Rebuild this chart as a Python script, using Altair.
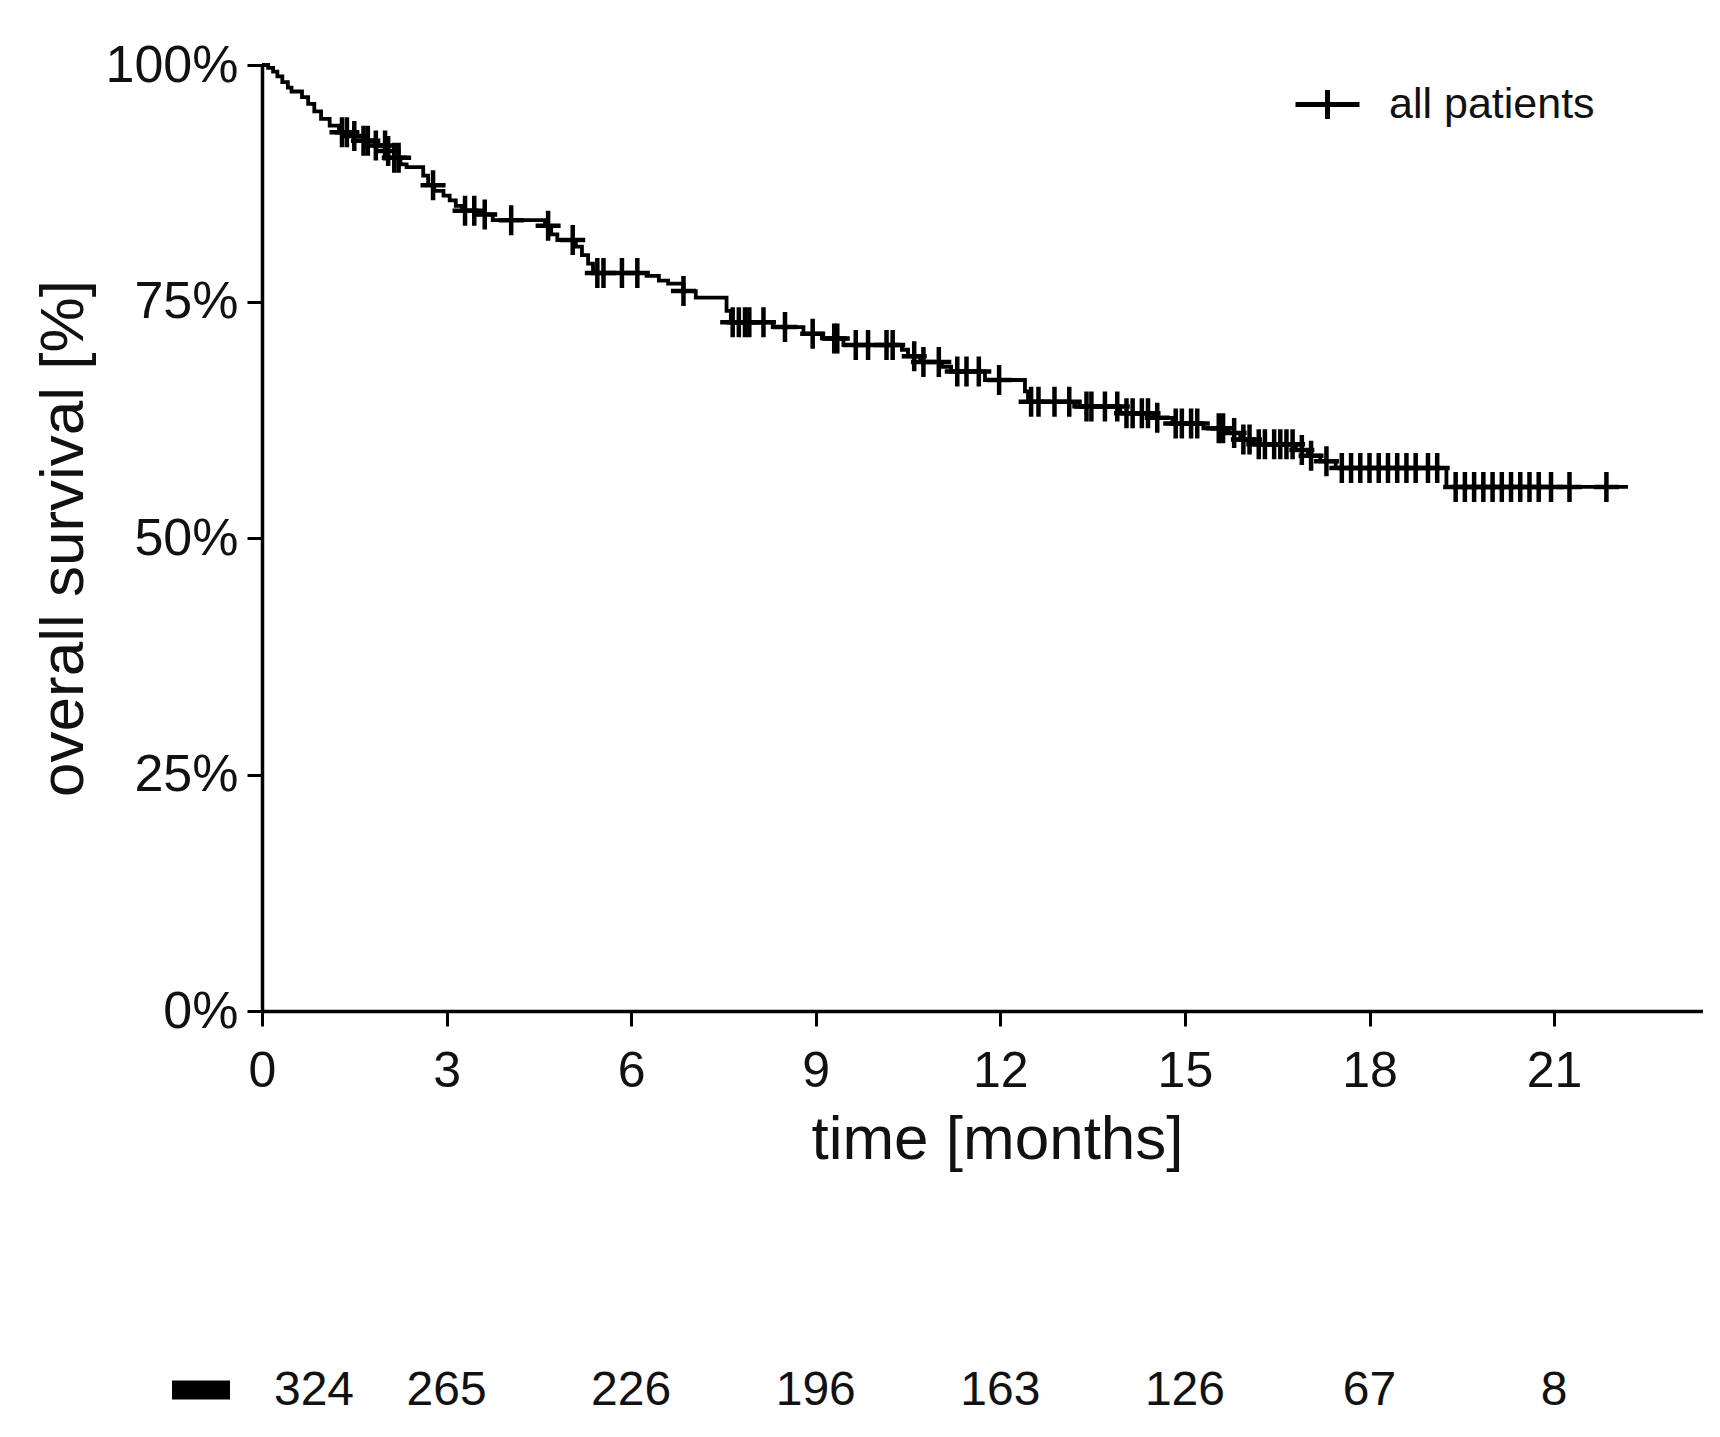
import altair as alt
import pandas as pd

FONT = "Liberation Sans"

# Kaplan-Meier step points (time in months, survival in %)
event_times = [0, 0.10, 0.18, 0.25, 0.33, 0.42, 0.48, 0.65, 0.75, 0.85, 0.96, 1.10, 1.25,
               1.45, 1.65, 1.85, 2.05, 2.15, 2.25, 2.35, 2.62, 2.70, 2.80, 2.95, 3.05, 3.15,
               3.25, 3.50, 3.75, 4.60, 4.70, 4.80, 5.10, 5.20, 5.30, 5.38, 6.25, 6.45, 6.60,
               6.85, 7.05, 7.55, 7.62, 8.30, 8.80, 9.10, 9.45, 10.40, 10.50, 10.70, 11.05,
               11.20, 11.75, 12.40, 12.45, 13.20, 13.95, 14.50, 14.80, 15.30, 15.70, 15.90,
               16.10, 16.80, 17.00, 17.20, 17.45, 19.25]
event_surv = [100, 99.7, 99.3, 98.8, 98.2, 97.6, 97.2, 96.6, 95.9, 95.1, 94.3, 93.6, 92.9,
              92.5, 92.0, 91.5, 90.9, 90.2, 89.5, 89.2, 88.3, 87.3, 86.7, 86.2, 85.7, 85.1,
              84.6, 84.2, 83.6, 83.0, 82.1, 81.5, 80.8, 79.9, 79.0, 78.0, 77.7, 77.2, 76.9,
              76.1, 75.4, 74.0, 72.8, 72.3, 71.6, 71.1, 70.4, 69.9, 69.2, 68.6, 68.1,
              67.6, 66.7, 65.5, 64.4, 63.9, 63.2, 62.7, 62.1, 61.6, 61.1, 60.4,
              59.9, 59.3, 58.7, 58.1, 57.4, 55.4]
end_time = 22.2

censor_times = [1.30, 1.38, 1.50, 1.65, 1.72, 1.85, 2.00, 2.05, 2.15, 2.22, 2.78, 3.30, 3.45,
                3.62, 4.05, 4.65, 5.05, 5.45, 5.55, 5.85, 6.10, 6.85, 7.65, 7.75, 7.85, 7.92,
                8.15, 8.50, 8.95, 9.30, 9.35, 9.65, 9.85, 10.15, 10.25, 10.60, 10.75, 11.00,
                11.30, 11.45, 11.65, 11.98, 12.50, 12.62, 12.88, 13.12, 13.40, 13.48, 13.70,
                13.90, 14.05, 14.15, 14.30, 14.40, 14.55, 14.85, 14.95, 15.10, 15.20, 15.55,
                15.62, 15.80, 15.95, 16.05, 16.20, 16.30, 16.45, 16.55, 16.65, 16.75, 16.90,
                17.05, 17.30, 17.55, 17.70, 17.85, 18.00, 18.15, 18.30, 18.45, 18.60, 18.75,
                18.95, 19.10, 19.40, 19.55, 19.70, 19.85, 20.00, 20.15, 20.30, 20.45, 20.60,
                20.75, 20.95, 21.25, 21.85]

risk_times = [0, 3, 6, 9, 12, 15, 18, 21]
risk_counts = [324, 265, 226, 196, 163, 126, 67, 8]
x_ticks = [0, 3, 6, 9, 12, 15, 18, 21]
y_ticks = [0, 25, 50, 75, 100]
group = "all patients"


def surv_at(t):
    s = event_surv[0]
    for et, es in zip(event_times, event_surv):
        if et <= t:
            s = es
    return s


line_df = pd.DataFrame({
    "t": event_times + [end_time],
    "s": event_surv + [event_surv[-1]],
    "g": group,
})
cens_df = pd.DataFrame({"t": censor_times, "s": [surv_at(t) for t in censor_times]})
risk_df = pd.DataFrame({"t": risk_times, "n": risk_counts})

xs = alt.Scale(domain=[0, 23.42], nice=False, zero=False)
ys = alt.Scale(domain=[0, 100], nice=False)

x_axis = alt.Axis(values=x_ticks, format="d", title="time [months]", titleX=735, titleY=128,
                  titleBaseline="middle", titleAlign="center", labelPadding=20,
                  labelFlush=False)
y_axis = alt.Axis(values=y_ticks, title="overall survival [%]", labelExpr="datum.value + '%'",
                  titleX=-199, titleY=473, titleAngle=270, titleAlign="center",
                  titleBaseline="middle", labelPadding=9, labelFontSize=52, labelFlush=False)

CROSS = "M-1,0H1M0,-1.2V1.2"

line = alt.Chart(line_df).mark_line(interpolate="step-after", strokeWidth=3.8).encode(
    x=alt.X("t:Q", scale=xs, axis=x_axis),
    y=alt.Y("s:Q", scale=ys, axis=y_axis),
    color=alt.Color("g:N", scale=alt.Scale(domain=[group], range=["black"]),
                    legend=alt.Legend(title=None, orient="none", legendX=1031, legendY=5,
                                      symbolType="M-1,0H1M0,-0.45V0.45", symbolSize=4096,
                                      symbolStrokeWidth=5, labelFont=FONT, labelFontSize=43,
                                      labelColor="#111", labelOffset=27, labelLimit=600,
                                      padding=0)),
)

cens = alt.Chart(cens_df).mark_point(shape=CROSS, size=625, strokeWidth=4.5, filled=False,
                                     color="black", opacity=1).encode(
    x=alt.X("t:Q", scale=xs),
    y=alt.Y("s:Q", scale=ys),
)

risk_first = alt.Chart(risk_df.iloc[:1]).mark_text(font=FONT, fontSize=48, baseline="middle",
                                                   align="center", dx=52, color="#111").encode(
    x=alt.X("t:Q", scale=xs),
    y=alt.value(1326),
    text="n:Q",
)
risk_rest = alt.Chart(risk_df.iloc[1:]).mark_text(font=FONT, fontSize=48, baseline="middle",
                                                  align="center", color="#111").encode(
    x=alt.X("t:Q", scale=xs),
    y=alt.value(1326),
    text="n:Q",
)

risk_key = alt.Chart(risk_df.iloc[:1]).mark_rule(color="black", strokeWidth=19,
                                                 strokeCap="butt").encode(
    x=alt.value(-90), x2=alt.value(-32), y=alt.value(1325),
)

chart = alt.layer(line, cens, risk_first, risk_rest, risk_key).properties(
    width=1441, height=946,
    autosize=alt.AutoSizeParams(type="none"),
    padding={"left": 254, "top": 57, "right": 0, "bottom": 420},
).configure_view(stroke=None).configure_axis(
    grid=False, domainColor="black", domainWidth=3.5, tickColor="black", tickWidth=3,
    tickSize=15, labelFont=FONT, labelFontSize=50, labelColor="#111", titleFont=FONT,
    titleFontSize=62, titleFontWeight="normal", titleColor="#111",
)

chart.save("out.html", embed_options={"renderer": "svg", "actions": False})
